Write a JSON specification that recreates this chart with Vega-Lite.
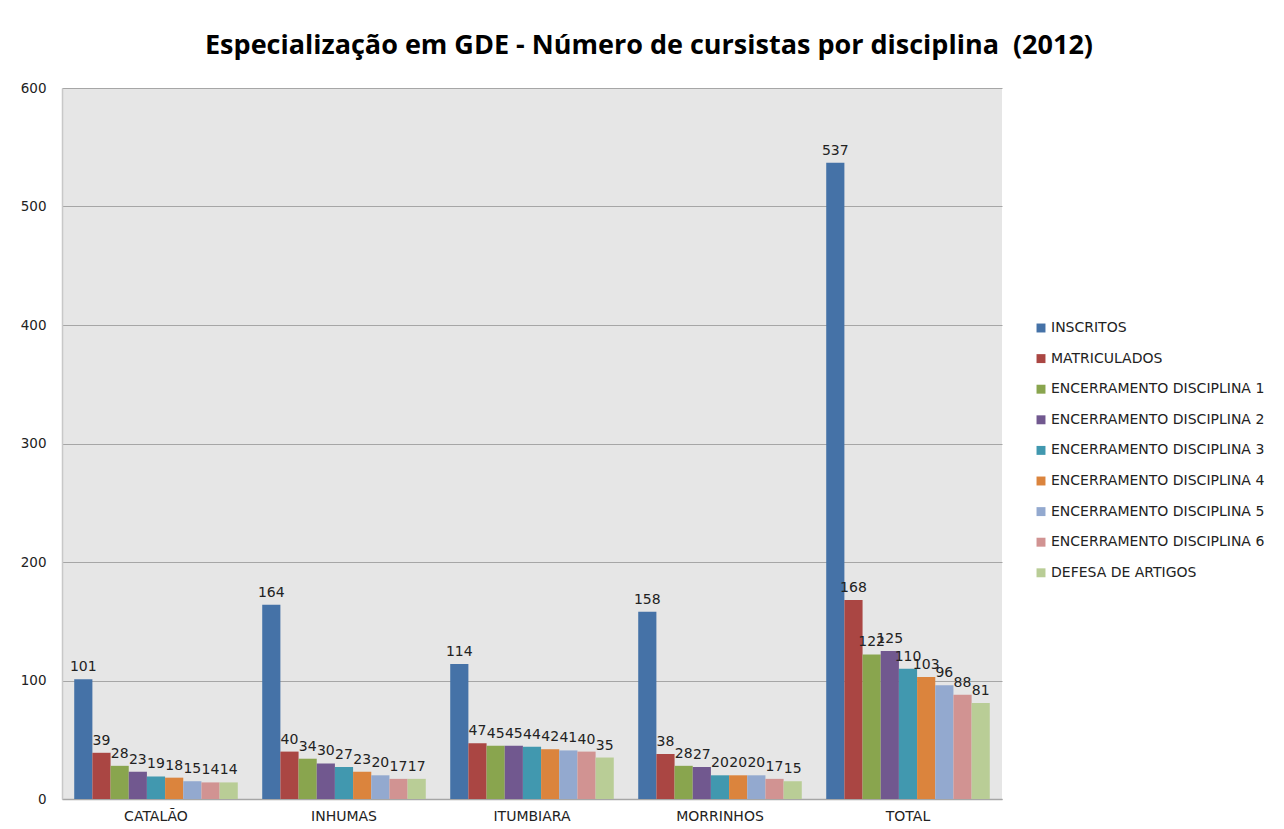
{
  "$schema": "https://vega.github.io/schema/vega-lite/v6.json",
  "autosize": {"type": "none"},
  "width": 940,
  "height": 711,
  "padding": {"left": 62, "top": 88, "right": 282, "bottom": 30},
  "background": "white",
  "title": {
    "text": "Especialização em GDE - Número de cursistas por disciplina \u00a0(2012)",
    "font": "Open Sans",
    "fontSize": 27,
    "fontWeight": "bold",
    "color": "#000000",
    "anchor": "start",
    "frame": "group",
    "dx": 143,
    "offset": 21
  },
  "config": {
    "font": "DejaVu Sans",
    "view": {"fill": "#E6E6E6", "stroke": null},
    "axis": {"labelFont": "DejaVu Sans", "labelFontSize": 13.5, "labelColor": "#222222"}
  },
  "data": {
    "values": [
      {"local": "CATALÃO", "serie": "INSCRITOS", "valor": 101},
      {"local": "CATALÃO", "serie": "MATRICULADOS", "valor": 39},
      {"local": "CATALÃO", "serie": "ENCERRAMENTO DISCIPLINA 1", "valor": 28},
      {"local": "CATALÃO", "serie": "ENCERRAMENTO DISCIPLINA 2", "valor": 23},
      {"local": "CATALÃO", "serie": "ENCERRAMENTO DISCIPLINA 3", "valor": 19},
      {"local": "CATALÃO", "serie": "ENCERRAMENTO DISCIPLINA 4", "valor": 18},
      {"local": "CATALÃO", "serie": "ENCERRAMENTO DISCIPLINA 5", "valor": 15},
      {"local": "CATALÃO", "serie": "ENCERRAMENTO DISCIPLINA 6", "valor": 14},
      {"local": "CATALÃO", "serie": "DEFESA DE ARTIGOS", "valor": 14},
      {"local": "INHUMAS", "serie": "INSCRITOS", "valor": 164},
      {"local": "INHUMAS", "serie": "MATRICULADOS", "valor": 40},
      {"local": "INHUMAS", "serie": "ENCERRAMENTO DISCIPLINA 1", "valor": 34},
      {"local": "INHUMAS", "serie": "ENCERRAMENTO DISCIPLINA 2", "valor": 30},
      {"local": "INHUMAS", "serie": "ENCERRAMENTO DISCIPLINA 3", "valor": 27},
      {"local": "INHUMAS", "serie": "ENCERRAMENTO DISCIPLINA 4", "valor": 23},
      {"local": "INHUMAS", "serie": "ENCERRAMENTO DISCIPLINA 5", "valor": 20},
      {"local": "INHUMAS", "serie": "ENCERRAMENTO DISCIPLINA 6", "valor": 17},
      {"local": "INHUMAS", "serie": "DEFESA DE ARTIGOS", "valor": 17},
      {"local": "ITUMBIARA", "serie": "INSCRITOS", "valor": 114},
      {"local": "ITUMBIARA", "serie": "MATRICULADOS", "valor": 47},
      {"local": "ITUMBIARA", "serie": "ENCERRAMENTO DISCIPLINA 1", "valor": 45},
      {"local": "ITUMBIARA", "serie": "ENCERRAMENTO DISCIPLINA 2", "valor": 45},
      {"local": "ITUMBIARA", "serie": "ENCERRAMENTO DISCIPLINA 3", "valor": 44},
      {"local": "ITUMBIARA", "serie": "ENCERRAMENTO DISCIPLINA 4", "valor": 42},
      {"local": "ITUMBIARA", "serie": "ENCERRAMENTO DISCIPLINA 5", "valor": 41},
      {"local": "ITUMBIARA", "serie": "ENCERRAMENTO DISCIPLINA 6", "valor": 40},
      {"local": "ITUMBIARA", "serie": "DEFESA DE ARTIGOS", "valor": 35},
      {"local": "MORRINHOS", "serie": "INSCRITOS", "valor": 158},
      {"local": "MORRINHOS", "serie": "MATRICULADOS", "valor": 38},
      {"local": "MORRINHOS", "serie": "ENCERRAMENTO DISCIPLINA 1", "valor": 28},
      {"local": "MORRINHOS", "serie": "ENCERRAMENTO DISCIPLINA 2", "valor": 27},
      {"local": "MORRINHOS", "serie": "ENCERRAMENTO DISCIPLINA 3", "valor": 20},
      {"local": "MORRINHOS", "serie": "ENCERRAMENTO DISCIPLINA 4", "valor": 20},
      {"local": "MORRINHOS", "serie": "ENCERRAMENTO DISCIPLINA 5", "valor": 20},
      {"local": "MORRINHOS", "serie": "ENCERRAMENTO DISCIPLINA 6", "valor": 17},
      {"local": "MORRINHOS", "serie": "DEFESA DE ARTIGOS", "valor": 15},
      {"local": "TOTAL", "serie": "INSCRITOS", "valor": 537},
      {"local": "TOTAL", "serie": "MATRICULADOS", "valor": 168},
      {"local": "TOTAL", "serie": "ENCERRAMENTO DISCIPLINA 1", "valor": 122},
      {"local": "TOTAL", "serie": "ENCERRAMENTO DISCIPLINA 2", "valor": 125},
      {"local": "TOTAL", "serie": "ENCERRAMENTO DISCIPLINA 3", "valor": 110},
      {"local": "TOTAL", "serie": "ENCERRAMENTO DISCIPLINA 4", "valor": 103},
      {"local": "TOTAL", "serie": "ENCERRAMENTO DISCIPLINA 5", "valor": 96},
      {"local": "TOTAL", "serie": "ENCERRAMENTO DISCIPLINA 6", "valor": 88},
      {"local": "TOTAL", "serie": "DEFESA DE ARTIGOS", "valor": 81}
    ]
  },
  "encoding": {
    "x": {
      "field": "local", "type": "nominal", "sort": null,
      "scale": {"paddingInner": 0.13, "paddingOuter": 0.065},
      "axis": {"title": null, "labelAngle": 0, "ticks": false, "labelPadding": 10, "labelFontSize": 14, "domainColor": "#A6A6A6", "domainWidth": 1.5}
    },
    "xOffset": {
      "field": "serie", "type": "nominal", "sort": null,
      "scale": {"paddingInner": 0, "paddingOuter": 0}
    },
    "y": {
      "field": "valor", "type": "quantitative",
      "scale": {"domain": [0, 600], "nice": false},
      "axis": {"title": null, "values": [0, 100, 200, 300, 400, 500, 600], "ticks": false, "domain": true, "domainColor": "#C8C8C8", "domainWidth": 1.5, "labelPadding": 16, "gridColor": "#A6A6A6", "gridWidth": 1.2}
    }
  },
  "layer": [
    {
      "mark": {"type": "bar"},
      "encoding": {
        "color": {
          "field": "serie", "type": "nominal", "sort": null,
          "scale": {
            "domain": ["INSCRITOS", "MATRICULADOS", "ENCERRAMENTO DISCIPLINA 1", "ENCERRAMENTO DISCIPLINA 2", "ENCERRAMENTO DISCIPLINA 3", "ENCERRAMENTO DISCIPLINA 4", "ENCERRAMENTO DISCIPLINA 5", "ENCERRAMENTO DISCIPLINA 6", "DEFESA DE ARTIGOS"],
            "range": ["#4572A7", "#AA4643", "#89A54E", "#71588F", "#4198AF", "#DB843D", "#93A9CF", "#D19392", "#B9CD96"]
          },
          "legend": {
            "title": null,
            "orient": "none",
            "legendX": 972,
            "legendY": 233,
            "symbolType": "square",
            "symbolSize": 80,
            "symbolStrokeWidth": 0,
            "labelFont": "DejaVu Sans",
            "labelFontSize": 14,
            "labelColor": "#222222",
            "labelOffset": 3,
            "rowPadding": 16.6,
            "labelLimit": 300
          }
        }
      }
    },
    {
      "mark": {"type": "text", "baseline": "bottom", "dy": -5, "font": "DejaVu Sans", "fontSize": 14, "color": "#222222"},
      "encoding": {
        "text": {"field": "valor", "type": "quantitative"}
      }
    }
  ]
}
